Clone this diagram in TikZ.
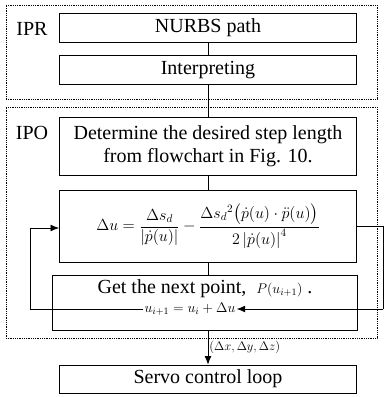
\RequirePackage{fix-cm}
\documentclass[tikz,border=0pt]{standalone}
\usepackage{fontspec}
\setmainfont{Liberation Serif}
\usepackage{amsmath}
\usetikzlibrary{arrows.meta,positioning}
\newcommand{\mathsz}[1]{{\fontsize{14}{17}\selectfont$#1$}}

\begin{document}
\begin{tikzpicture}[
    x=1pt,y=-1pt,
    every node/.style={font=\fontsize{20}{23}\selectfont},
    box/.style={rectangle,draw,thick,minimum width=297pt,inner sep=0pt},
    group/.style={rectangle,draw,thick,densely dotted,inner sep=0pt},
    txt/.style={inner sep=1pt},
    arrow/.style={-{Latex[length=3mm,width=2.4mm]},thick},
    line/.style={thick}
  ]
    \useasboundingbox (0,0) rectangle (384,397);
    % groups
    \node[group,minimum width=371pt,minimum height=94pt] (ipr) at (191.5,52) {};
    \node[group,minimum width=371pt,minimum height=231pt] (ipo) at (191.5,222.5) {};
    \node[txt] (iprlab) at (32,29) {IPR};
    \node[txt] (ipolab) at (32,133) {IPO};
    % blocks
    \node[box,minimum height=29pt] (nurbs) at (208,28) {NURBS path};
    \node[box,minimum height=29pt] (interp) at (208,70) {Interpreting};
    \node[box,minimum height=58pt,align=center] (determine) at (208,146)
      {Determine the desired step length\\from flowchart in Fig. 10.};
    \node[box,minimum height=72pt] (formula) at (208,226)
      {\fontsize{16}{19}\selectfont$\displaystyle \Delta u=\frac{\Delta s_d}{\left|\dot{p}(u)\right|}
        -\frac{\Delta {s_d}^2\bigl(\dot{p}(u)\cdot\ddot{p}(u)\bigr)}{2\left|\dot{p}(u)\right|^4}$};
    \node[box,minimum width=305pt,minimum height=55pt] (getnext) at (204.5,302.5) {};
    \node[txt] (gettxt) at (205,289) {Get the next point, \ \mathsz{P(u_{i+1})} .};
    \node[txt] (upd) at (190,309) {\mathsz{u_{i+1}=u_i+\Delta u}};
    \node[box,minimum height=28pt] (servo) at (208,379) {Servo control loop};
    % loop corners
    \coordinate (rtop) at (383,226);
    \coordinate (rbot) at (383,309);
    \coordinate (lbot) at (30,309);
    \coordinate (ltop) at (30,228);
    % connectors
    \draw[line] (nurbs) -- (interp);
    \draw[line] (interp) -- (determine);
    \draw[line] (determine) -- (formula);
    \draw[line] (formula.south) -- (formula.south |- getnext.north);
    \draw[line] (formula.east) -- (rtop) -- (rbot);
    \draw[arrow] (rbot) -- (upd.east);
    \draw[line] (upd.west) -- (lbot) -- (ltop);
    \draw[arrow] (ltop) -- (ltop -| formula.west);
    \draw[arrow] (getnext.south -| servo.north) -- (servo.north)
      node[midway,right,inner sep=1pt,font=\fontsize{12.5}{15}\selectfont] (dlab) {$(\Delta x,\Delta y,\Delta z)$};
  \end{tikzpicture}
\end{document}
